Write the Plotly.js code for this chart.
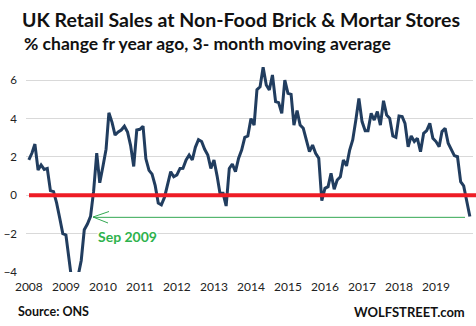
<!DOCTYPE html>
<html>
<head>
<meta charset="utf-8">
<script src="https://cdn.plot.ly/plotly-3.0.1.min.js"></script>
<style>
  html, body { margin: 0; padding: 0; background: #fff; }
  #chart { width: 476px; height: 326px; }
</style>
</head>
<body>
<div id="chart"></div>
<script>
// Monthly series, Jan 2008 .. Dec 2019 (% change from year ago, 3-month moving average)
const startYear = 2008;
const values = [
  1.84, 2.20, 2.67, 1.32, 1.58, 1.35, 1.40, 0.24, 0.19, -0.40, -1.20, -2.00,   // 2008
  -2.07, -3.20, -4.50, -5.00, -4.20, -3.40, -1.80, -1.50, -1.10, 0.20, 2.20, 0.65, // 2009
  1.50, 2.40, 4.30, 3.80, 3.14, 3.30, 3.40, 3.60, 3.30, 2.60, 1.50, 3.40,      // 2010
  3.44, 3.60, 1.90, 1.30, 1.10, 0.50, -0.40, -0.50, -0.10, 0.60, 1.23, 0.97,   // 2011
  1.06, 1.40, 1.41, 1.84, 2.10, 1.84, 2.50, 2.90, 2.80, 2.40, 2.10, 1.40,      // 2012
  1.84, 1.00, 0.10, 0.10, -0.56, 1.40, 1.63, 1.23, 1.93, 2.36, 3.02, 3.09,     // 2013
  4.00, 3.66, 5.50, 5.66, 6.67, 5.75, 5.49, 6.27, 4.88, 4.83, 4.27, 6.00,      // 2014
  5.31, 5.26, 3.66, 4.41, 3.66, 3.49, 2.88, 2.27, 2.62, 2.19, 1.93, -0.28,     // 2015
  0.36, 0.45, 1.15, 0.31, 0.80, 0.97, 1.84, 1.53, 2.36, 2.88, 3.92, 5.05,      // 2016
  3.84, 3.37, 3.37, 4.27, 3.92, 4.36, 3.66, 4.93, 4.18, 4.01, 3.09, 3.02,      // 2017
  4.13, 4.10, 3.75, 2.53, 3.09, 2.80, 2.97, 2.27, 3.23, 3.37, 3.75, 2.97,      // 2018
  2.80, 2.53, 3.32, 3.49, 2.71, 2.36, 2.07, 2.01, 0.71, 0.49, -0.25, -1.11     // 2019
];
const tickYears = ['2008','2009','2010','2011','2012','2013','2014','2015','2016','2017','2018','2019'];
const yTicks = [-4, -2, 0, 2, 4, 6];
const sepLevel = -1.15;

const dates = values.map((v, i) => {
  const y = startYear + Math.floor(i / 12);
  const m = (i % 12) + 1;
  return y + '-' + String(m).padStart(2, '0') + '-01';
});
const tickVals = tickYears.map(y => y + '-01-01');

const font = 'Lato, "Open Sans", sans-serif';
const green = '#33a852';

const trace = {
  x: dates, y: values, type: 'scatter', mode: 'lines',
  line: { color: '#213d5f', width: 3 },
  hoverinfo: 'skip'
};

// helper: pixel -> paper
const L = 26, R = 473, T = 61, B = 272;
const px = x => (x - L) / (R - L);
const py = y => (B - y) / (B - T);

const layout = {
  width: 476, height: 326,
  margin: { l: L, r: 476 - R, t: T, b: 326 - B, pad: 0 },
  paper_bgcolor: '#fff', plot_bgcolor: '#fff',
  showlegend: false,
  title: {
    text: '<b>UK Retail Sales at Non-Food Brick &amp; Mortar Stores</b>',
    font: { family: font, size: 19.5, color: '#111' },
    x: 22 / 476, xanchor: 'left', xref: 'container',
    y: 1 - 20 / 326, yanchor: 'middle', yref: 'container'
  },
  xaxis: {
    type: 'date',
    range: ['2007-12-04', '2020-01-01'],
    tickmode: 'array', tickvals: tickVals, ticktext: tickYears,
    showgrid: false, zeroline: false, showline: false, ticks: '',
    tickfont: { family: font, size: 12, color: '#222' },
    ticklabelstandoff: 6
  },
  yaxis: {
    range: [-4, 7],
    tickmode: 'array', tickvals: yTicks,
    showgrid: true, gridcolor: '#d9d9d9', gridwidth: 1,
    zeroline: false, showline: false, ticks: '',
    tickfont: { family: font, size: 11.5, color: '#222' },
    ticklabelstandoff: 8
  },
  shapes: [
    { type: 'line', xref: 'paper', yref: 'y', x0: px(29), x1: px(476), y0: 0, y1: 0,
      line: { color: '#ee1c25', width: 4 }, layer: 'above' },
    { type: 'line', xref: 'paper', yref: 'y', x0: px(93), x1: px(465), y0: sepLevel, y1: sepLevel,
      line: { color: green, width: 1 } },
    { type: 'line', xref: 'paper', yref: 'paper', x0: px(93), y0: py(217), x1: px(109), y1: py(211.5),
      line: { color: green, width: 1 } },
    { type: 'line', xref: 'paper', yref: 'paper', x0: px(93), y0: py(217), x1: px(108), y1: py(223),
      line: { color: green, width: 1 } }
  ],
  annotations: [
    { text: '<b>% change fr year ago, 3- month moving average</b>',
      xref: 'paper', yref: 'paper', x: px(22), y: py(43), xanchor: 'left', yanchor: 'middle',
      showarrow: false, font: { family: font, size: 17.5, color: '#111' } },
    { text: '<b>Sep 2009</b>',
      xref: 'paper', yref: 'paper', x: px(97), y: py(236), xanchor: 'left', yanchor: 'middle',
      showarrow: false, bgcolor: '#fff', borderpad: 0,
      font: { family: font, size: 14, color: '#2eb24c' } },
    { text: '<b>Source: ONS</b>',
      xref: 'paper', yref: 'paper', x: px(16), y: py(311), xanchor: 'left', yanchor: 'middle',
      showarrow: false, font: { family: font, size: 12.5, color: '#111' } },
    { text: '<b>WOLFSTREET.com</b>',
      xref: 'paper', yref: 'paper', x: px(467), y: py(312), xanchor: 'right', yanchor: 'middle',
      showarrow: false, font: { family: font, size: 13, color: '#111' } }
  ]
};

Plotly.newPlot('chart', [trace], layout, { staticPlot: true, displayModeBar: false });
</script>
</body>
</html>
